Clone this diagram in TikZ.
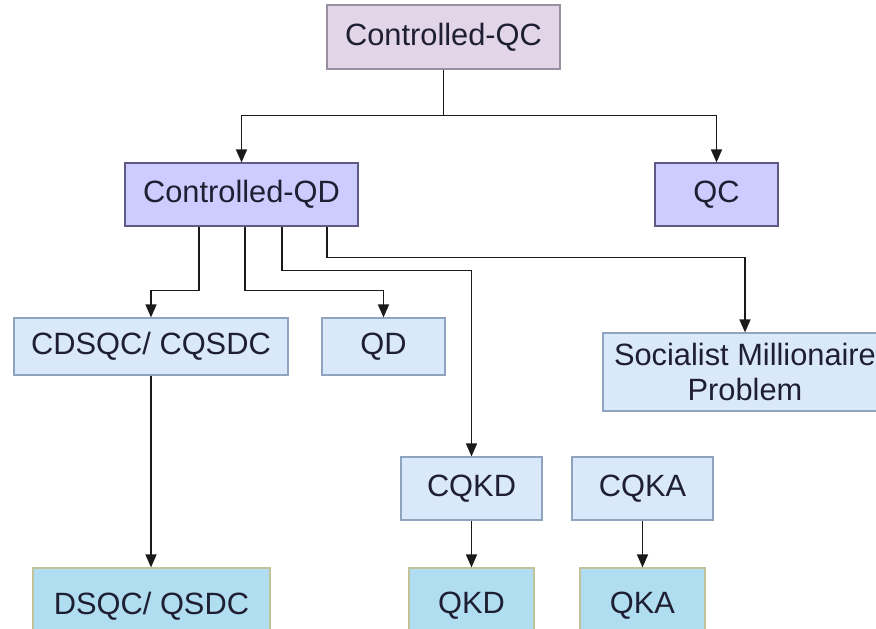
\documentclass[tikz,border=0pt]{standalone}
\usepackage{fontspec}
\setmainfont{Liberation Sans}
\usepackage{tikz}
\usetikzlibrary{arrows.meta,positioning,calc}
\definecolor{qcpurple}{HTML}{E1D5E7}
\definecolor{qcpurpleline}{HTML}{9A8FA0}
\definecolor{qdlav}{HTML}{CCCCFF}
\definecolor{qdlavline}{HTML}{5F5A85}
\definecolor{cblue}{HTML}{DAE8FC}
\definecolor{cblueline}{HTML}{8FA4BF}
\definecolor{pblue}{HTML}{B1DDF0}
\definecolor{pblueline}{HTML}{C2C29A}
\definecolor{txtdark}{HTML}{1F1F33}
\definecolor{wireblack}{HTML}{1A1A1A}

\begin{document}
\begin{tikzpicture}[
  x=1pt, y=-1pt,
  font=\fontsize{30.8}{35}\selectfont,
  box/.style={line width=1.2pt, inner sep=0pt, align=center, text=txtdark},
  top/.style={box, fill=qcpurple, draw=qcpurpleline},
  mid/.style={box, fill=qdlav, draw=qdlavline},
  ctl/.style={box, fill=cblue, draw=cblueline},
  base/.style={box, fill=pblue, draw=pblueline},
  flow/.style={-{Triangle[length=13pt, width=11pt]}, line width=1.6pt, wireblack}]
  \clip (0,0) rectangle (876,629);
  \fill[white] (0,0) rectangle (876,629);
  % first two levels
  \node[top, minimum width=233pt, minimum height=64pt] (cqc) at (443.5,37) {Controlled-QC};
  \node[mid, minimum width=233pt, minimum height=63pt] (cqd) at (241.5,194.5) {Controlled-QD};
  \node[mid, minimum width=123pt, minimum height=63pt] (qc) at (716.5,194.5) {QC};
  % controlled protocols
  \node[ctl, minimum width=274pt, minimum height=57pt] (cdsqc) at (151,346.5) {CDSQC/ CQSDC};
  \node[ctl, minimum width=123pt, minimum height=57pt] (qd) at (383.5,346.5) {QD};
  \node[ctl, minimum width=284pt, minimum height=78pt] (smp) at (745,372) {Socialist Millionaire\\Problem};
  \node[ctl, minimum width=141pt, minimum height=63pt] (cqkd) at (471.5,488.5) {CQKD};
  \node[ctl, minimum width=141pt, minimum height=63pt] (cqka) at (642.5,488.5) {CQKA};
  % plain protocols
  \node[base, minimum width=237pt, minimum height=76pt] (dsqc) at (151.5,606) {DSQC/ QSDC};
  \node[base, minimum width=125pt, minimum height=76pt] (qkd) at (471.5,606) {QKD};
  \node[base, minimum width=125pt, minimum height=76pt] (qka) at (642.5,606) {QKA};
  \draw[flow] (cqc.south) -- ++(0,46) -| (cqd.north);
  \draw[flow] (cqc.south) -- ++(0,46) -| (qc.north);
  \draw[flow] ([xshift=-42.5pt]cqd.south) -- ++(0,64) -| (cdsqc.north);
  \draw[flow] ([xshift=3.5pt]cqd.south) -- ++(0,64) -| (qd.north);
  \draw[flow] ([xshift=40.5pt]cqd.south) -- ++(0,44) -| (cqkd.north);
  \draw[flow] ([xshift=85.5pt]cqd.south) -- ++(0,31) -| (smp.north);
  \draw[flow] (cdsqc.south) -- (cdsqc.south |- dsqc.north);
  \draw[flow] (cqkd) -- (qkd);
  \draw[flow] (cqka) -- (qka);
\end{tikzpicture}
\end{document}
